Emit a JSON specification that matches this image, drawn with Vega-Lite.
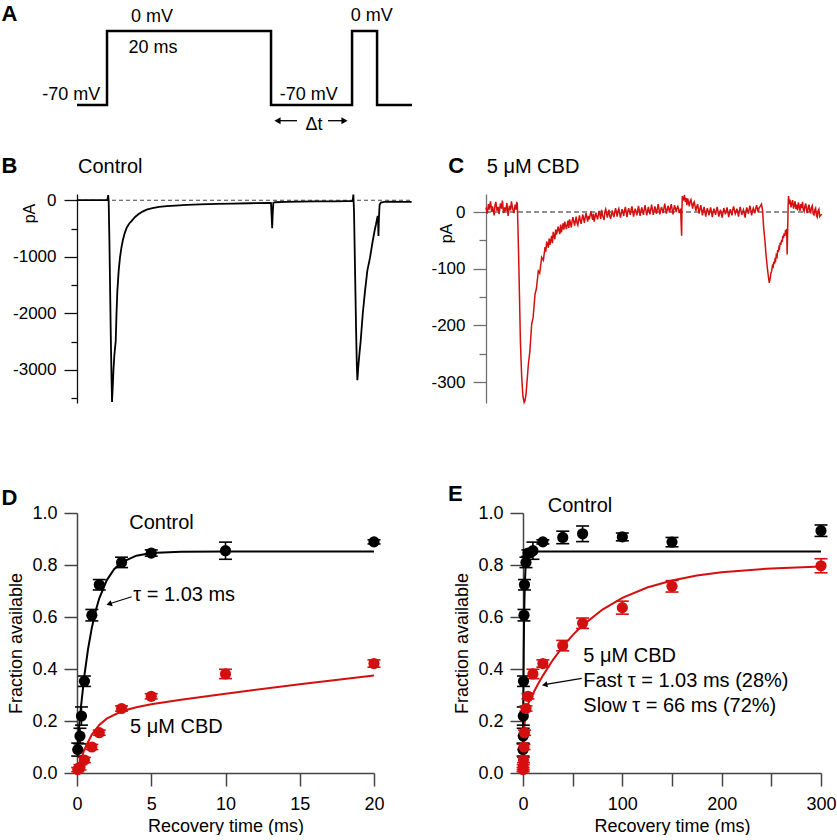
{
  "$schema": "https://vega.github.io/schema/vega-lite/v6.json",
  "background": "white",
  "padding": {"left": 1, "top": 0, "right": 0, "bottom": 0},
  "config": {
    "view": {"stroke": null},
    "font": "Liberation Sans",
    "text": {"font": "Liberation Sans", "color": "black"},
    "axis": {"labelFont": "Liberation Sans", "titleFont": "Liberation Sans", "labelColor": "black", "titleColor": "black", "titleFontWeight": "normal", "grid": false, "labelFlush": false, "labelOverlap": false, "tickCount": 20}
  },
  "datasets": {
    "protocol": [
      {"t": 0, "mV": -70}, {"t": 3.66, "mV": -70}, {"t": 3.66, "mV": 0}, {"t": 23.66, "mV": 0}, {"t": 23.66, "mV": -70},
      {"t": 33.54, "mV": -70}, {"t": 33.54, "mV": 0}, {"t": 36.59, "mV": 0}, {"t": 36.59, "mV": -70}, {"t": 40.85, "mV": -70}
    ],
    "traceB": [
      {"t": 0, "pA": 3}, {"t": 1.0, "pA": 2}, {"t": 2.0, "pA": 4}, {"t": 3.0, "pA": 2}, {"t": 3.7, "pA": 3}, {"t": 3.8, "pA": 90},
      {"t": 3.86, "pA": 0}, {"t": 3.95, "pA": -700}, {"t": 4.03, "pA": -1500}, {"t": 4.11, "pA": -2300}, {"t": 4.19, "pA": -3000},
      {"t": 4.27, "pA": -3568}, {"t": 4.36, "pA": -3300}, {"t": 4.45, "pA": -3000}, {"t": 4.55, "pA": -2750}, {"t": 4.72, "pA": -2493},
      {"t": 4.82, "pA": -2000}, {"t": 4.92, "pA": -1607}, {"t": 5.08, "pA": -1250}, {"t": 5.24, "pA": -1016}, {"t": 5.4, "pA": -850},
      {"t": 5.57, "pA": -721}, {"t": 5.8, "pA": -590}, {"t": 6.06, "pA": -485}, {"t": 6.35, "pA": -415}, {"t": 6.67, "pA": -366},
      {"t": 7.05, "pA": -300}, {"t": 7.48, "pA": -248}, {"t": 8.0, "pA": -200}, {"t": 8.5, "pA": -165}, {"t": 9.2, "pA": -138},
      {"t": 10.0, "pA": -118}, {"t": 10.94, "pA": -105}, {"t": 12.0, "pA": -93}, {"t": 13.37, "pA": -83}, {"t": 15.0, "pA": -73},
      {"t": 17.03, "pA": -65}, {"t": 19.0, "pA": -58}, {"t": 21.1, "pA": -53}, {"t": 23.54, "pA": -47}, {"t": 23.66, "pA": -50},
      {"t": 23.74, "pA": -300}, {"t": 23.8, "pA": -496}, {"t": 23.86, "pA": -250}, {"t": 23.94, "pA": -45}, {"t": 24.15, "pA": -35},
      {"t": 25.5, "pA": -30}, {"t": 27.2, "pA": -24}, {"t": 29.0, "pA": -20}, {"t": 31.26, "pA": -18}, {"t": 33.0, "pA": -14},
      {"t": 33.62, "pA": -12}, {"t": 33.7, "pA": 100}, {"t": 33.78, "pA": -200}, {"t": 33.9, "pA": -1200}, {"t": 34.02, "pA": -2200},
      {"t": 34.12, "pA": -2900}, {"t": 34.19, "pA": -3184}, {"t": 34.3, "pA": -2950}, {"t": 34.45, "pA": -2700}, {"t": 34.59, "pA": -2493},
      {"t": 34.85, "pA": -2000}, {"t": 35.12, "pA": -1607}, {"t": 35.4, "pA": -1250}, {"t": 35.73, "pA": -1016}, {"t": 36.06, "pA": -721},
      {"t": 36.3, "pA": -530}, {"t": 36.46, "pA": -425}, {"t": 36.6, "pA": -320}, {"t": 36.67, "pA": -278}, {"t": 36.72, "pA": -400},
      {"t": 36.76, "pA": -632}, {"t": 36.82, "pA": -300}, {"t": 36.9, "pA": -80}, {"t": 37.05, "pA": -40}, {"t": 37.5, "pA": -30},
      {"t": 38.58, "pA": -24}, {"t": 39.5, "pA": -28}, {"t": 40.81, "pA": -30}
    ],
    "traceC": [
      {"t": 0, "pA": 8}, {"t": 0.15, "pA": -3}, {"t": 0.3, "pA": 14}, {"t": 0.4, "pA": 4}, {"t": 0.55, "pA": 19}, {"t": 0.7, "pA": 0},
      {"t": 0.8, "pA": 10}, {"t": 1.0, "pA": -6}, {"t": 1.1, "pA": 12}, {"t": 1.2, "pA": 18}, {"t": 1.35, "pA": 2}, {"t": 1.5, "pA": 9},
      {"t": 1.6, "pA": -4}, {"t": 1.75, "pA": 15}, {"t": 1.9, "pA": 6}, {"t": 2.0, "pA": 20}, {"t": 2.15, "pA": -2}, {"t": 2.3, "pA": 8},
      {"t": 2.4, "pA": 1}, {"t": 2.55, "pA": 16}, {"t": 2.7, "pA": -7}, {"t": 2.85, "pA": 11}, {"t": 3.0, "pA": 3}, {"t": 3.1, "pA": 19},
      {"t": 3.25, "pA": 6}, {"t": 3.4, "pA": -2}, {"t": 3.55, "pA": 13}, {"t": 3.65, "pA": 4}, {"t": 3.75, "pA": 18}, {"t": 3.82, "pA": 14},
      {"t": 3.9, "pA": -30}, {"t": 4.0, "pA": -90}, {"t": 4.1, "pA": -160},
      {"t": 4.2, "pA": -230}, {"t": 4.35, "pA": -290}, {"t": 4.5, "pA": -325}, {"t": 4.65, "pA": -336}, {"t": 4.75, "pA": -333},
      {"t": 4.88, "pA": -322}, {"t": 5.0, "pA": -300}, {"t": 5.16, "pA": -270}, {"t": 5.35, "pA": -246}, {"t": 5.57, "pA": -198},
      {"t": 5.75, "pA": -186}, {"t": 5.98, "pA": -145}, {"t": 6.15, "pA": -135}, {"t": 6.38, "pA": -104}, {"t": 6.55, "pA": -108},
      {"t": 6.79, "pA": -80}, {"t": 7.0, "pA": -85}, {"t": 7.2, "pA": -62}, {"t": 7.3, "pA": -70}, {"t": 7.4, "pA": -52}, {"t": 7.6, "pA": -63}, {"t": 7.7, "pA": -47}, {"t": 7.8, "pA": -58},
      {"t": 8.0, "pA": -42}, {"t": 8.1, "pA": -55}, {"t": 8.2, "pA": -35}, {"t": 8.4, "pA": -48}, {"t": 8.5, "pA": -31}, {"t": 8.6, "pA": -40}, {"t": 8.8, "pA": -26}, {"t": 9.0, "pA": -39},
      {"t": 9.1, "pA": -22}, {"t": 9.2, "pA": -36}, {"t": 9.4, "pA": -20}, {"t": 9.5, "pA": -31}, {"t": 9.6, "pA": -17}, {"t": 9.8, "pA": -30}, {"t": 10.0, "pA": -15}, {"t": 10.1, "pA": -28},
      {"t": 10.2, "pA": -13}, {"t": 10.4, "pA": -27}, {"t": 10.5, "pA": -16}, {"t": 10.6, "pA": -9}, {"t": 10.8, "pA": -24}, {"t": 11.0, "pA": -8}, {"t": 11.1, "pA": -19}, {"t": 11.2, "pA": -23},
      {"t": 11.4, "pA": -6}, {"t": 11.5, "pA": -15}, {"t": 11.6, "pA": -21}, {"t": 11.8, "pA": -4}, {"t": 12.0, "pA": -19}, {"t": 12.1, "pA": -9}, {"t": 12.2, "pA": -2},
      {"t": 12.4, "pA": -17}, {"t": 12.5, "pA": -7}, {"t": 12.6, "pA": -13}, {"t": 12.8, "pA": 1}, {"t": 13.0, "pA": -14}, {"t": 13.1, "pA": -3}, {"t": 13.2, "pA": -17},
      {"t": 13.4, "pA": -1}, {"t": 13.6, "pA": -13}, {"t": 13.7, "pA": -6}, {"t": 13.8, "pA": 2}, {"t": 14.0, "pA": -12}, {"t": 14.1, "pA": 4}, {"t": 14.2, "pA": -5},
      {"t": 14.4, "pA": -14}, {"t": 14.5, "pA": 1}, {"t": 14.6, "pA": 5}, {"t": 14.8, "pA": -10}, {"t": 15.0, "pA": 4}, {"t": 15.1, "pA": -7}, {"t": 15.2, "pA": -12},
      {"t": 15.4, "pA": 3}, {"t": 15.5, "pA": -4}, {"t": 15.6, "pA": -9}, {"t": 15.8, "pA": 7}, {"t": 16.0, "pA": -8}, {"t": 16.1, "pA": 2}, {"t": 16.2, "pA": 6},
      {"t": 16.4, "pA": -10}, {"t": 16.5, "pA": -2}, {"t": 16.6, "pA": 5}, {"t": 16.8, "pA": -7}, {"t": 16.9, "pA": 3}, {"t": 17.0, "pA": 9}, {"t": 17.2, "pA": -9},
      {"t": 17.3, "pA": 1}, {"t": 17.4, "pA": 7}, {"t": 17.6, "pA": -5}, {"t": 17.7, "pA": 4}, {"t": 17.8, "pA": 10}, {"t": 18.0, "pA": -8}, {"t": 18.1, "pA": 0},
      {"t": 18.2, "pA": 6}, {"t": 18.4, "pA": -6}, {"t": 18.5, "pA": 3}, {"t": 18.6, "pA": 11}, {"t": 18.8, "pA": -7}, {"t": 18.9, "pA": 2}, {"t": 19.0, "pA": 8},
      {"t": 19.2, "pA": -5}, {"t": 19.3, "pA": 4}, {"t": 19.4, "pA": 12}, {"t": 19.6, "pA": -6}, {"t": 19.7, "pA": 1}, {"t": 19.8, "pA": 9}, {"t": 20.0, "pA": -4},
      {"t": 20.1, "pA": 5}, {"t": 20.2, "pA": 13}, {"t": 20.4, "pA": -5}, {"t": 20.5, "pA": 2}, {"t": 20.6, "pA": 10}, {"t": 20.8, "pA": -3}, {"t": 20.9, "pA": 6},
      {"t": 21.0, "pA": 14}, {"t": 21.2, "pA": -4}, {"t": 21.3, "pA": 3}, {"t": 21.4, "pA": 9}, {"t": 21.6, "pA": -2}, {"t": 21.7, "pA": 7}, {"t": 21.8, "pA": 15},
      {"t": 22.0, "pA": -3}, {"t": 22.1, "pA": 4}, {"t": 22.2, "pA": 11}, {"t": 22.4, "pA": -1}, {"t": 22.5, "pA": 8}, {"t": 22.6, "pA": 14}, {"t": 22.8, "pA": -4},
      {"t": 22.9, "pA": 5}, {"t": 23.0, "pA": 12}, {"t": 23.2, "pA": 0}, {"t": 23.3, "pA": 7}, {"t": 23.4, "pA": 10}, {"t": 23.6, "pA": -2}, {"t": 23.74, "pA": 6},
      {"t": 23.8, "pA": -20}, {"t": 23.86, "pA": -42}, {"t": 23.9, "pA": 5}, {"t": 23.94, "pA": 28},
      {"t": 24.05, "pA": 20}, {"t": 24.2, "pA": 30}, {"t": 24.3, "pA": 18}, {"t": 24.4, "pA": 25}, {"t": 24.5, "pA": 12}, {"t": 24.6, "pA": 24}, {"t": 24.8, "pA": 10},
      {"t": 24.9, "pA": 19}, {"t": 25.0, "pA": 22}, {"t": 25.2, "pA": 6}, {"t": 25.3, "pA": 15}, {"t": 25.4, "pA": 18}, {"t": 25.6, "pA": 2}, {"t": 25.7, "pA": 9},
      {"t": 25.8, "pA": 14}, {"t": 26.0, "pA": -3}, {"t": 26.1, "pA": 6}, {"t": 26.2, "pA": 12}, {"t": 26.4, "pA": -6}, {"t": 26.5, "pA": 3}, {"t": 26.6, "pA": 9},
      {"t": 26.8, "pA": -8}, {"t": 26.9, "pA": 1}, {"t": 27.0, "pA": 7}, {"t": 27.2, "pA": -6}, {"t": 27.3, "pA": 2}, {"t": 27.4, "pA": 8}, {"t": 27.6, "pA": -9},
      {"t": 27.7, "pA": 0}, {"t": 27.8, "pA": 6}, {"t": 28.0, "pA": -5}, {"t": 28.1, "pA": 3}, {"t": 28.2, "pA": 9}, {"t": 28.4, "pA": -8}, {"t": 28.5, "pA": -1},
      {"t": 28.6, "pA": 4}, {"t": 28.8, "pA": -10}, {"t": 28.9, "pA": -2}, {"t": 29.0, "pA": 7}, {"t": 29.2, "pA": -4}, {"t": 29.3, "pA": 2}, {"t": 29.4, "pA": 8},
      {"t": 29.6, "pA": -9}, {"t": 29.7, "pA": -1}, {"t": 29.8, "pA": 5}, {"t": 30.0, "pA": -6}, {"t": 30.1, "pA": 4}, {"t": 30.2, "pA": 10}, {"t": 30.4, "pA": -3},
      {"t": 30.5, "pA": 1}, {"t": 30.6, "pA": 6}, {"t": 30.8, "pA": -8}, {"t": 30.9, "pA": 2}, {"t": 31.0, "pA": 9}, {"t": 31.2, "pA": -5}, {"t": 31.3, "pA": 0},
      {"t": 31.4, "pA": 4}, {"t": 31.6, "pA": -10}, {"t": 31.7, "pA": 1}, {"t": 31.8, "pA": 8}, {"t": 32.0, "pA": -3}, {"t": 32.1, "pA": 5}, {"t": 32.2, "pA": 11},
      {"t": 32.4, "pA": -6}, {"t": 32.5, "pA": 2}, {"t": 32.6, "pA": 7}, {"t": 32.8, "pA": -2}, {"t": 32.9, "pA": 6}, {"t": 33.0, "pA": 12}, {"t": 33.2, "pA": 0},
      {"t": 33.3, "pA": 7}, {"t": 33.4, "pA": 9}, {"t": 33.6, "pA": 14}, {"t": 33.74, "pA": 2}, {"t": 33.85, "pA": -25}, {"t": 34.02, "pA": -51}, {"t": 34.15, "pA": -75},
      {"t": 34.31, "pA": -98}, {"t": 34.45, "pA": -115}, {"t": 34.55, "pA": -125}, {"t": 34.65, "pA": -118}, {"t": 34.75, "pA": -108}, {"t": 34.84, "pA": -104},
      {"t": 34.92, "pA": -96}, {"t": 35.0, "pA": -99}, {"t": 35.1, "pA": -88}, {"t": 35.17, "pA": -92}, {"t": 35.24, "pA": -84}, {"t": 35.32, "pA": -86}, {"t": 35.4, "pA": -76},
      {"t": 35.5, "pA": -79}, {"t": 35.57, "pA": -67}, {"t": 35.65, "pA": -71}, {"t": 35.73, "pA": -62}, {"t": 35.8, "pA": -64}, {"t": 35.88, "pA": -54},
      {"t": 35.95, "pA": -58}, {"t": 36.06, "pA": -49}, {"t": 36.13, "pA": -53}, {"t": 36.2, "pA": -42}, {"t": 36.28, "pA": -46}, {"t": 36.35, "pA": -38},
      {"t": 36.46, "pA": -42}, {"t": 36.53, "pA": -32}, {"t": 36.6, "pA": -35}, {"t": 36.67, "pA": -30}, {"t": 36.73, "pA": -75}, {"t": 36.78, "pA": -40},
      {"t": 36.85, "pA": 10}, {"t": 36.9, "pA": 28}, {"t": 37.0, "pA": 14}, {"t": 37.07, "pA": 22}, {"t": 37.2, "pA": 8}, {"t": 37.3, "pA": 16}, {"t": 37.4, "pA": 21},
      {"t": 37.5, "pA": 6}, {"t": 37.6, "pA": 12}, {"t": 37.7, "pA": 19}, {"t": 37.8, "pA": 5}, {"t": 37.9, "pA": 13}, {"t": 38.0, "pA": 3}, {"t": 38.1, "pA": 17},
      {"t": 38.2, "pA": 10}, {"t": 38.3, "pA": 2}, {"t": 38.4, "pA": 14}, {"t": 38.5, "pA": 7}, {"t": 38.6, "pA": 18}, {"t": 38.7, "pA": 4}, {"t": 38.8, "pA": 1},
      {"t": 38.9, "pA": 11}, {"t": 39.0, "pA": 15}, {"t": 39.1, "pA": 3}, {"t": 39.2, "pA": -2}, {"t": 39.3, "pA": 9}, {"t": 39.4, "pA": 13}, {"t": 39.5, "pA": 1},
      {"t": 39.6, "pA": -1}, {"t": 39.7, "pA": 8}, {"t": 39.8, "pA": 11}, {"t": 39.9, "pA": -3}, {"t": 40.0, "pA": -5}, {"t": 40.1, "pA": 4}, {"t": 40.2, "pA": 7},
      {"t": 40.3, "pA": -6}, {"t": 40.4, "pA": -9}, {"t": 40.5, "pA": 2}, {"t": 40.6, "pA": 5}, {"t": 40.7, "pA": -8}, {"t": 40.8, "pA": -6}, {"t": 40.95, "pA": -4}
    ],
    "rec": [
      {"t": 0.05, "g": "Control", "f": 0.09, "lo": 0.065, "hi": 0.115},
      {"t": 0.2, "g": "Control", "f": 0.142, "lo": 0.112, "hi": 0.172},
      {"t": 0.3, "g": "Control", "f": 0.219, "lo": 0.184, "hi": 0.254},
      {"t": 0.5, "g": "Control", "f": 0.353, "lo": 0.333, "hi": 0.373},
      {"t": 1, "g": "Control", "f": 0.607, "lo": 0.585, "hi": 0.629},
      {"t": 1.5, "g": "Control", "f": 0.724, "lo": 0.704, "hi": 0.744},
      {"t": 3, "g": "Control", "f": 0.81, "lo": 0.79, "hi": 0.83},
      {"t": 5, "g": "Control", "f": 0.846, "lo": 0.834, "hi": 0.858},
      {"t": 10, "g": "Control", "f": 0.855, "lo": 0.822, "hi": 0.888},
      {"t": 20, "g": "Control", "f": 0.889, "lo": 0.881, "hi": 0.897},
      {"t": 40, "g": "Control", "f": 0.906, "lo": 0.882, "hi": 0.93},
      {"t": 60, "g": "Control", "f": 0.92, "lo": 0.89, "hi": 0.95},
      {"t": 100, "g": "Control", "f": 0.908, "lo": 0.893, "hi": 0.923},
      {"t": 150, "g": "Control", "f": 0.888, "lo": 0.87, "hi": 0.906},
      {"t": 300, "g": "Control", "f": 0.932, "lo": 0.91, "hi": 0.954},
      {"t": 0.05, "g": "CBD", "f": 0.013, "lo": 0.005, "hi": 0.021},
      {"t": 0.2, "g": "CBD", "f": 0.022, "lo": 0.012, "hi": 0.032},
      {"t": 0.5, "g": "CBD", "f": 0.05, "lo": 0.04, "hi": 0.06},
      {"t": 1, "g": "CBD", "f": 0.1, "lo": 0.09, "hi": 0.11},
      {"t": 1.5, "g": "CBD", "f": 0.155, "lo": 0.145, "hi": 0.165},
      {"t": 3, "g": "CBD", "f": 0.248, "lo": 0.238, "hi": 0.258},
      {"t": 5, "g": "CBD", "f": 0.295, "lo": 0.285, "hi": 0.305},
      {"t": 10, "g": "CBD", "f": 0.381, "lo": 0.363, "hi": 0.399},
      {"t": 20, "g": "CBD", "f": 0.421, "lo": 0.407, "hi": 0.435},
      {"t": 40, "g": "CBD", "f": 0.49, "lo": 0.47, "hi": 0.51},
      {"t": 60, "g": "CBD", "f": 0.576, "lo": 0.556, "hi": 0.596},
      {"t": 100, "g": "CBD", "f": 0.636, "lo": 0.611, "hi": 0.661},
      {"t": 150, "g": "CBD", "f": 0.718, "lo": 0.696, "hi": 0.74},
      {"t": 300, "g": "CBD", "f": 0.797, "lo": 0.77, "hi": 0.824}
    ],
    "fit": [
      {"t": 0, "g": "Control", "f": 0.079}, {"t": 0.1, "g": "Control", "f": 0.15}, {"t": 0.25, "g": "Control", "f": 0.246},
      {"t": 0.5, "g": "Control", "f": 0.376}, {"t": 0.75, "g": "Control", "f": 0.479}, {"t": 1.0, "g": "Control", "f": 0.559},
      {"t": 1.25, "g": "Control", "f": 0.622}, {"t": 1.5, "g": "Control", "f": 0.672}, {"t": 2.0, "g": "Control", "f": 0.741},
      {"t": 2.5, "g": "Control", "f": 0.784}, {"t": 3, "g": "Control", "f": 0.81}, {"t": 4, "g": "Control", "f": 0.836},
      {"t": 5, "g": "Control", "f": 0.846}, {"t": 7, "g": "Control", "f": 0.851}, {"t": 10, "g": "Control", "f": 0.852},
      {"t": 15, "g": "Control", "f": 0.852}, {"t": 20, "g": "Control", "f": 0.852}, {"t": 50, "g": "Control", "f": 0.852},
      {"t": 100, "g": "Control", "f": 0.852}, {"t": 200, "g": "Control", "f": 0.852}, {"t": 300, "g": "Control", "f": 0.852},
      {"t": 0, "g": "CBD", "f": 0}, {"t": 0.1, "g": "CBD", "f": 0.0216}, {"t": 0.2, "g": "CBD", "f": 0.0413}, {"t": 0.5, "g": "CBD", "f": 0.0904},
      {"t": 1.0, "g": "CBD", "f": 0.1478}, {"t": 1.5, "g": "CBD", "f": 0.1847}, {"t": 2, "g": "CBD", "f": 0.2091}, {"t": 3, "g": "CBD", "f": 0.2374},
      {"t": 4, "g": "CBD", "f": 0.2532}, {"t": 5, "g": "CBD", "f": 0.2643}, {"t": 7, "g": "CBD", "f": 0.2817}, {"t": 10, "g": "CBD", "f": 0.305},
      {"t": 15, "g": "CBD", "f": 0.3411}, {"t": 20, "g": "CBD", "f": 0.3746}, {"t": 30, "g": "CBD", "f": 0.4343}, {"t": 40, "g": "CBD", "f": 0.4858},
      {"t": 50, "g": "CBD", "f": 0.5302}, {"t": 60, "g": "CBD", "f": 0.5679}, {"t": 80, "g": "CBD", "f": 0.6286}, {"t": 100, "g": "CBD", "f": 0.6734},
      {"t": 125, "g": "CBD", "f": 0.7133}, {"t": 150, "g": "CBD", "f": 0.7407}, {"t": 175, "g": "CBD", "f": 0.7594}, {"t": 200, "g": "CBD", "f": 0.7722},
      {"t": 250, "g": "CBD", "f": 0.787}, {"t": 300, "g": "CBD", "f": 0.7939}
    ]
  },
  "spacing": 76,
  "vconcat": [
    {
      "spacing": 21,
      "vconcat": [
        {
          "width": 335,
          "height": 130,
          "layer": [
            {"data": {"name": "protocol"}, "mark": {"type": "line", "color": "black", "strokeWidth": 2.5, "strokeJoin": "miter"},
             "encoding": {
               "x": {"field": "t", "type": "quantitative", "scale": {"domain": [0, 40.85], "nice": false, "zero": false}, "axis": null},
               "y": {"field": "mV", "type": "quantitative", "scale": {"domain": [-93.7, 29.3], "nice": false, "zero": false}, "axis": null},
               "order": {"value": null}}},
            {"data": {"values": [{}]}, "mark": {"type": "text", "text": "0 mV", "fontSize": 18, "align": "center", "baseline": "alphabetic"},
             "encoding": {"x": {"datum": 9.15, "axis": null}, "y": {"datum": 8.8, "axis": null}}},
            {"data": {"values": [{}]}, "mark": {"type": "text", "text": "20 ms", "fontSize": 18, "align": "center", "baseline": "alphabetic"},
             "encoding": {"x": {"datum": 9.27, "axis": null}, "y": {"datum": -21.1, "axis": null}}},
            {"data": {"values": [{}]}, "mark": {"type": "text", "text": "-70 mV", "fontSize": 18, "align": "center", "baseline": "alphabetic"},
             "encoding": {"x": {"datum": -0.7, "axis": null}, "y": {"datum": -65.3, "axis": null}}},
            {"data": {"values": [{}]}, "mark": {"type": "text", "text": "-70 mV", "fontSize": 18, "align": "center", "baseline": "alphabetic"},
             "encoding": {"x": {"datum": 28.25, "axis": null}, "y": {"datum": -65.3, "axis": null}}},
            {"data": {"values": [{}]}, "mark": {"type": "text", "text": "0 mV", "fontSize": 18, "align": "center", "baseline": "alphabetic"},
             "encoding": {"x": {"datum": 35.94, "axis": null}, "y": {"datum": 9.7, "axis": null}}},
            {"data": {"values": [{}]}, "mark": {"type": "text", "text": "Δt", "fontSize": 18, "align": "center", "baseline": "alphabetic"},
             "encoding": {"x": {"datum": 28.9, "axis": null}, "y": {"datum": -93.7, "axis": null}}},
            {"data": {"values": [{}]}, "mark": {"type": "rule", "color": "black", "strokeWidth": 1.3},
             "encoding": {"x": {"datum": 24.4, "axis": null}, "x2": {"datum": 26.83}, "y": {"datum": -84.9, "axis": null}}},
            {"data": {"values": [{}]}, "mark": {"type": "rule", "color": "black", "strokeWidth": 1.3},
             "encoding": {"x": {"datum": 30.61, "axis": null}, "x2": {"datum": 32.6}, "y": {"datum": -84.9, "axis": null}}},
            {"data": {"values": [{}]}, "mark": {"type": "point", "shape": "triangle-left", "filled": true, "color": "black", "size": 50, "opacity": 1},
             "encoding": {"x": {"datum": 24.45, "axis": null}, "y": {"datum": -84.9, "axis": null}}},
            {"data": {"values": [{}]}, "mark": {"type": "point", "shape": "triangle-right", "filled": true, "color": "black", "size": 50, "opacity": 1},
             "encoding": {"x": {"datum": 32.62, "axis": null}, "y": {"datum": -84.9, "axis": null}}},
            {"data": {"values": [{}]}, "mark": {"type": "text", "text": "A", "fontSize": 22, "fontWeight": "bold", "align": "left", "baseline": "alphabetic"},
             "encoding": {"x": {"datum": -9.207, "axis": null}, "y": {"datum": 9.9, "axis": null}}}
          ]
        },
        {
          "spacing": 14,
          "hconcat": [
            {
              "width": 335,
              "height": 209,
              "layer": [
                {"data": {"values": [{}]}, "mark": {"type": "rule", "color": "#444", "strokeWidth": 1.2, "strokeDash": [4, 3]},
                 "encoding": {"x": {"datum": 0, "axis": null}, "x2": {"datum": 40.85}, "y": {"datum": 0}}},
                {"data": {"name": "traceB"}, "mark": {"type": "line", "color": "black", "strokeWidth": 1.8},
                 "encoding": {
                   "x": {"field": "t", "type": "quantitative", "scale": {"domain": [0, 40.85], "nice": false, "zero": false}, "axis": null},
                   "y": {"field": "pA", "type": "quantitative", "scale": {"domain": [-3588, 111], "nice": false, "zero": false},
                         "axis": {"values": [0, -500, -1000, -1500, -2000, -2500, -3000, -3500], "tickCount": 20,
                                  "labelExpr": "datum.value % 1000 === 0 ? '' + datum.value : ''",
                                  "tickSize": {"condition": {"test": "datum.value % 1000 === 0", "value": 13}, "value": 6},
                                  "tickWidth": 1.3, "domainWidth": 1.3, "domainColor": "#111", "tickColor": "#111",
                                  "labelFontSize": 17, "labelPadding": 8,
                                  "title": "pA", "titleFontSize": 16, "titleX": -48, "titleY": 19, "titleAngle": -90,
                                  "titleAlign": "center", "titleBaseline": "middle"}},
                   "order": {"value": null}}},
                {"data": {"values": [{}]}, "mark": {"type": "text", "text": "B", "fontSize": 22, "fontWeight": "bold", "align": "left", "baseline": "alphabetic"},
                 "encoding": {"x": {"datum": -9.207, "axis": null}, "y": {"datum": 478}}},
                {"data": {"values": [{}]}, "mark": {"type": "text", "text": "Control", "fontSize": 20, "align": "left", "baseline": "alphabetic"},
                 "encoding": {"x": {"datum": 0.12, "axis": null}, "y": {"datum": 488}}}
              ]
            },
            {
              "width": 336,
              "height": 209,
              "layer": [
                {"data": {"values": [{}]}, "mark": {"type": "rule", "color": "#222", "strokeWidth": 1.2, "strokeDash": [5, 3]},
                 "encoding": {"x": {"datum": 0, "axis": null}, "x2": {"datum": 40.98}, "y": {"datum": 0}}},
                {"data": {"name": "traceC"}, "mark": {"type": "line", "color": "#d40f0f", "strokeWidth": 1.5},
                 "encoding": {
                   "x": {"field": "t", "type": "quantitative", "scale": {"domain": [0, 40.98], "nice": false, "zero": false}, "axis": null},
                   "y": {"field": "pA", "type": "quantitative", "scale": {"domain": [-337, 31.8], "nice": false, "zero": false},
                         "axis": {"values": [0, -50, -100, -150, -200, -250, -300], "tickCount": 20,
                                  "labelExpr": "datum.value % 100 === 0 ? '' + datum.value : ''",
                                  "tickSize": {"condition": {"test": "datum.value % 100 === 0", "value": 13}, "value": 7},
                                  "tickWidth": 1.3, "domainWidth": 1.3, "domainColor": "#707070", "tickColor": "#707070",
                                  "labelFontSize": 17, "labelPadding": 8,
                                  "title": "pA", "titleFontSize": 16, "titleX": -40, "titleY": 39, "titleAngle": -90,
                                  "titleAlign": "center", "titleBaseline": "middle"}},
                   "order": {"value": null}}},
                {"data": {"values": [{}]}, "mark": {"type": "text", "text": "C", "fontSize": 22, "fontWeight": "bold", "align": "left", "baseline": "alphabetic"},
                 "encoding": {"x": {"datum": -4.6, "axis": null}, "y": {"datum": 68.3}}},
                {"data": {"values": [{}]}, "mark": {"type": "text", "text": "5 μM CBD", "fontSize": 20, "align": "left", "baseline": "alphabetic"},
                 "encoding": {"x": {"datum": 0.085, "axis": null}, "y": {"datum": 68.3}}}
              ]
            }
          ]
        }
      ]
    },
    {
      "spacing": 63,
      "hconcat": [
        {
          "width": 297,
          "height": 260,
          "layer": [
            {"data": {"name": "fit"}, "transform": [{"filter": "datum.t <= 20"}], "mark": {"type": "line", "strokeWidth": 2},
             "encoding": {
               "x": {"field": "t", "type": "quantitative", "scale": {"domain": [0, 20], "nice": false, "zero": false},
                     "axis": {"values": [0, 5, 10, 15, 20], "tickCount": 20, "format": "d", "tickSize": 13, "tickWidth": 1.5, "domainWidth": 1.5,
                              "domainColor": "#444", "tickColor": "#444", "labelFontSize": 18, "labelPadding": 9,
                              "title": "Recovery time (ms)", "titleFontSize": 18, "titlePadding": 4}},
               "y": {"field": "f", "type": "quantitative", "scale": {"domain": [0, 1], "nice": false, "zero": false},
                     "axis": {"values": [0, 0.2, 0.4, 0.6, 0.8, 1], "tickCount": 20, "format": ".1f", "tickSize": 13, "tickWidth": 1.5, "domainWidth": 1.5,
                              "domainColor": "#444", "tickColor": "#444", "labelFontSize": 18, "labelPadding": 7,
                              "title": "Fraction available", "titleFontSize": 18, "titlePadding": 6}},
               "color": {"field": "g", "type": "nominal", "scale": {"domain": ["Control", "CBD"], "range": ["#000000", "#d40f0f"]}, "legend": null}}},
            {"data": {"name": "rec"}, "transform": [{"filter": "datum.t <= 20"}], "mark": {"type": "rule", "strokeWidth": 1.6},
             "encoding": {"x": {"field": "t", "type": "quantitative"}, "y": {"field": "lo", "type": "quantitative"}, "y2": {"field": "hi"},
                          "color": {"field": "g", "type": "nominal", "legend": null}}},
            {"data": {"name": "rec"}, "transform": [{"filter": "datum.t <= 20"}], "mark": {"type": "tick", "orient": "horizontal", "size": 13, "thickness": 1.6, "opacity": 1},
             "encoding": {"x": {"field": "t", "type": "quantitative"}, "y": {"field": "lo", "type": "quantitative"},
                          "color": {"field": "g", "type": "nominal", "legend": null}}},
            {"data": {"name": "rec"}, "transform": [{"filter": "datum.t <= 20"}], "mark": {"type": "tick", "orient": "horizontal", "size": 13, "thickness": 1.6, "opacity": 1},
             "encoding": {"x": {"field": "t", "type": "quantitative"}, "y": {"field": "hi", "type": "quantitative"},
                          "color": {"field": "g", "type": "nominal", "legend": null}}},
            {"data": {"name": "rec"}, "transform": [{"filter": "datum.t <= 20"}], "mark": {"type": "circle", "size": 125, "opacity": 1},
             "encoding": {"x": {"field": "t", "type": "quantitative"}, "y": {"field": "f", "type": "quantitative"},
                          "color": {"field": "g", "type": "nominal", "legend": null}}},
            {"data": {"values": [{}]}, "mark": {"type": "text", "text": "Control", "fontSize": 20, "align": "left", "baseline": "alphabetic"},
             "encoding": {"x": {"datum": 3.52}, "y": {"datum": 0.937}}},
            {"data": {"values": [{}]}, "mark": {"type": "text", "text": "τ = 1.03 ms", "fontSize": 20, "align": "left", "baseline": "alphabetic"},
             "encoding": {"x": {"datum": 3.79}, "y": {"datum": 0.663}}},
            {"data": {"values": [{}]}, "mark": {"type": "text", "text": "5 μM CBD", "fontSize": 20, "align": "left", "baseline": "alphabetic"},
             "encoding": {"x": {"datum": 3.57}, "y": {"datum": 0.155}}},
            {"data": {"values": [{}]}, "mark": {"type": "rule", "color": "black", "strokeWidth": 1.1},
             "encoding": {"x": {"datum": 3.68}, "x2": {"datum": 2.25}, "y": {"datum": 0.678}, "y2": {"datum": 0.652}}},
            {"data": {"values": [{}]}, "mark": {"type": "point", "shape": "triangle-left", "filled": true, "color": "black", "size": 40, "opacity": 1, "angle": 342},
             "encoding": {"x": {"datum": 2.16}, "y": {"datum": 0.65}}},
            {"data": {"values": [{}]}, "mark": {"type": "text", "text": "D", "fontSize": 22, "fontWeight": "bold", "align": "left", "baseline": "alphabetic"},
             "encoding": {"x": {"datum": -5.084}, "y": {"datum": 1.031}}}
          ]
        },
        {
          "width": 298,
          "height": 260,
          "layer": [
            {"data": {"name": "fit"}, "mark": {"type": "line", "strokeWidth": 2},
             "encoding": {
               "x": {"field": "t", "type": "quantitative", "scale": {"domain": [0, 300], "nice": false, "zero": false},
                     "axis": {"values": [0, 50, 100, 150, 200, 250, 300], "tickCount": 20, "format": "d", "labelExpr": "datum.value % 100 === 0 ? datum.label : ''",
                              "tickSize": 13, "tickWidth": 1.5, "domainWidth": 1.5,
                              "domainColor": "#444", "tickColor": "#444", "labelFontSize": 18, "labelPadding": 9,
                              "title": "Recovery time (ms)", "titleFontSize": 18, "titlePadding": 4}},
               "y": {"field": "f", "type": "quantitative", "scale": {"domain": [0, 1], "nice": false, "zero": false},
                     "axis": {"values": [0, 0.2, 0.4, 0.6, 0.8, 1], "tickCount": 20, "format": ".1f", "tickSize": 13, "tickWidth": 1.5, "domainWidth": 1.5,
                              "domainColor": "#444", "tickColor": "#444", "labelFontSize": 18, "labelPadding": 7,
                              "title": "Fraction available", "titleFontSize": 18, "titlePadding": 6}},
               "color": {"field": "g", "type": "nominal", "scale": {"domain": ["Control", "CBD"], "range": ["#000000", "#d40f0f"]}, "legend": null}}},
            {"data": {"name": "rec"}, "mark": {"type": "rule", "strokeWidth": 1.6},
             "encoding": {"x": {"field": "t", "type": "quantitative"}, "y": {"field": "lo", "type": "quantitative"}, "y2": {"field": "hi"},
                          "color": {"field": "g", "type": "nominal", "legend": null}}},
            {"data": {"name": "rec"}, "mark": {"type": "tick", "orient": "horizontal", "size": 13, "thickness": 1.6, "opacity": 1},
             "encoding": {"x": {"field": "t", "type": "quantitative"}, "y": {"field": "lo", "type": "quantitative"},
                          "color": {"field": "g", "type": "nominal", "legend": null}}},
            {"data": {"name": "rec"}, "mark": {"type": "tick", "orient": "horizontal", "size": 13, "thickness": 1.6, "opacity": 1},
             "encoding": {"x": {"field": "t", "type": "quantitative"}, "y": {"field": "hi", "type": "quantitative"},
                          "color": {"field": "g", "type": "nominal", "legend": null}}},
            {"data": {"name": "rec"}, "mark": {"type": "circle", "size": 125, "opacity": 1},
             "encoding": {"x": {"field": "t", "type": "quantitative"}, "y": {"field": "f", "type": "quantitative"},
                          "color": {"field": "g", "type": "nominal", "legend": null}}},
            {"data": {"values": [{}]}, "mark": {"type": "text", "text": "Control", "fontSize": 20, "align": "left", "baseline": "alphabetic"},
             "encoding": {"x": {"datum": 24.9}, "y": {"datum": 1.005}}},
            {"data": {"values": [{}]}, "mark": {"type": "text", "text": "5 μM CBD", "fontSize": 20, "align": "left", "baseline": "alphabetic"},
             "encoding": {"x": {"datum": 60.7}, "y": {"datum": 0.428}}},
            {"data": {"values": [{}]}, "mark": {"type": "text", "text": "Fast τ = 1.03 ms (28%)", "fontSize": 20, "align": "left", "baseline": "alphabetic"},
             "encoding": {"x": {"datum": 60.7}, "y": {"datum": 0.332}}},
            {"data": {"values": [{}]}, "mark": {"type": "text", "text": "Slow τ = 66 ms (72%)", "fontSize": 20, "align": "left", "baseline": "alphabetic"},
             "encoding": {"x": {"datum": 60.7}, "y": {"datum": 0.233}}},
            {"data": {"values": [{}]}, "mark": {"type": "rule", "color": "black", "strokeWidth": 1.1},
             "encoding": {"x": {"datum": 59.1}, "x2": {"datum": 23}, "y": {"datum": 0.364}, "y2": {"datum": 0.341}}},
            {"data": {"values": [{}]}, "mark": {"type": "point", "shape": "triangle-left", "filled": true, "color": "black", "size": 40, "opacity": 1, "angle": 350},
             "encoding": {"x": {"datum": 21.8}, "y": {"datum": 0.3395}}},
            {"data": {"values": [{}]}, "mark": {"type": "text", "text": "E", "fontSize": 22, "fontWeight": "bold", "align": "left", "baseline": "alphabetic"},
             "encoding": {"x": {"datum": -75.5}, "y": {"datum": 1.046}}}
          ]
        }
      ]
    }
  ]
}
